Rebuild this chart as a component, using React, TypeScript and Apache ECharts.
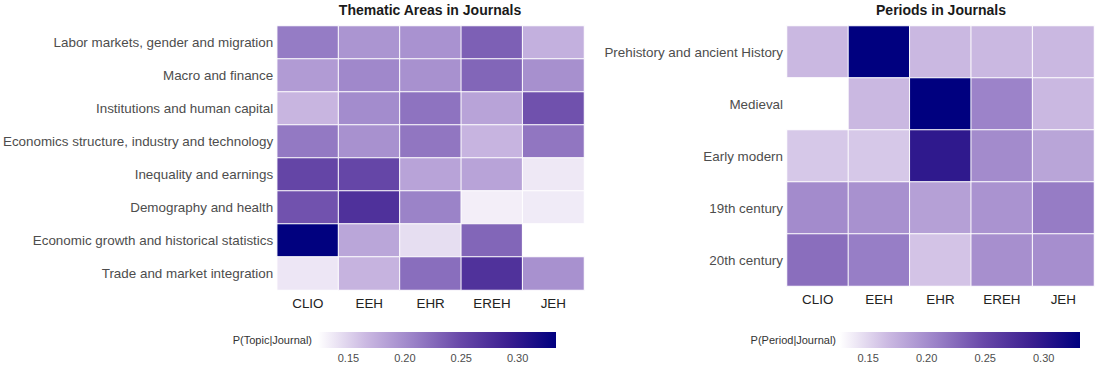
import React, { useEffect, useRef } from "react";
import * as echarts from "echarts";

const journals = ["CLIO", "EEH", "EHR", "EREH", "JEH"];

const topics = [
  "Labor markets, gender and migration",
  "Macro and finance",
  "Institutions and human capital",
  "Economics structure, industry and technology",
  "Inequality and earnings",
  "Demography and health",
  "Economic growth and historical statistics",
  "Trade and market integration",
];

// rows = topics, columns = journals (CLIO, EEH, EHR, EREH, JEH)
const topicValues = [
  [0.212, 0.193, 0.195, 0.232, 0.172],
  [0.188, 0.203, 0.196, 0.228, 0.197],
  [0.168, 0.2, 0.218, 0.182, 0.243],
  [0.214, 0.196, 0.216, 0.169, 0.216],
  [0.253, 0.252, 0.182, 0.182, 0.137],
  [0.242, 0.273, 0.207, 0.133, 0.135],
  [0.333, 0.18, 0.143, 0.228, 0.123],
  [0.138, 0.17, 0.222, 0.272, 0.196],
];

const periods = [
  "Prehistory and ancient History",
  "Medieval",
  "Early modern",
  "19th century",
  "20th century",
];

const periodValues = [
  [0.168, 0.331, 0.168, 0.168, 0.168],
  [0.126, 0.168, 0.331, 0.207, 0.168],
  [0.158, 0.158, 0.298, 0.201, 0.182],
  [0.201, 0.197, 0.186, 0.195, 0.212],
  [0.222, 0.211, 0.161, 0.198, 0.199],
];

const legendTicks = [0.15, 0.2, 0.25, 0.3];
const topicRange = [0.123, 0.334];
const periodRange = [0.126, 0.331];
const scaleColors = ["#ffffff", "#cbb9e2", "#9b82c8", "#6848a8", "#3b1f90", "#00007f"];

function toCells(values: number[][]) {
  const out: number[][] = [];
  values.forEach((row, r) => row.forEach((v, c) => out.push([c, r, v])));
  return out;
}

const FONT = "Liberation Sans, Arial, Helvetica, sans-serif";

export default function App() {
  const ref = useRef<HTMLDivElement>(null);
  useEffect(() => {
    if (!ref.current) return;
    const chart = echarts.init(ref.current, null, { renderer: "svg" });
    const stops = scaleColors.map((c, i) => ({ offset: i / (scaleColors.length - 1), color: c }));
    const gradient = () => new echarts.graphic.LinearGradient(0, 0, 1, 0, stops);

    const legendRender = (params: any, api: any) => {
      const a = api.coord([api.value(0), 1]);
      const b = api.coord([api.value(1), 0]);
      return {
        type: "rect",
        shape: { x: a[0], y: a[1], width: b[0] - a[0], height: b[1] - a[1] },
        style: { fill: gradient() },
      };
    };

    const catAxisX = (gridIndex: number) => ({
      type: "category",
      gridIndex,
      data: journals,
      axisLine: { show: false },
      axisTick: { show: false },
      splitLine: { show: false },
      axisLabel: { color: "#222", fontSize: 13.4, fontFamily: FONT, margin: 7 },
    });
    const catAxisY = (gridIndex: number, data: string[]) => ({
      type: "category",
      gridIndex,
      data,
      inverse: true,
      axisLine: { show: false },
      axisTick: { show: false },
      splitLine: { show: false },
      axisLabel: { color: "#4d4d4d", fontSize: 13.4, fontFamily: FONT, margin: 4 },
    });
    const legendAxisX = (gridIndex: number, range: number[], position: string, labels: boolean) => ({
      type: "value",
      gridIndex,
      min: range[0],
      max: range[1],
      position,
      axisLine: { show: false },
      splitLine: { show: false },
      axisTick: {
        show: true,
        inside: true,
        length: 3,
        customValues: legendTicks,
        lineStyle: { color: "#ffffff", width: 1 },
      },
      axisLabel: {
        show: labels,
        customValues: legendTicks,
        formatter: (v: number) => v.toFixed(2),
        color: "#4d4d4d",
        fontSize: 11,
        fontFamily: FONT,
        margin: 4,
      },
    });
    const legendAxisY = (gridIndex: number) => ({
      type: "value",
      gridIndex,
      min: 0,
      max: 1,
      show: false,
    });

    chart.setOption({
      animation: false,
      backgroundColor: "#ffffff",
      textStyle: { fontFamily: FONT },
      grid: [
        { left: 277, top: 26, width: 307, height: 264 },
        { left: 787, top: 26, width: 307, height: 260 },
        { left: 318, top: 332, width: 238, height: 16 },
        { left: 840, top: 332, width: 240, height: 16 },
      ],
      xAxis: [
        catAxisX(0),
        catAxisX(1),
        legendAxisX(2, topicRange, "bottom", true),
        legendAxisX(3, periodRange, "bottom", true),
        legendAxisX(2, topicRange, "top", false),
        legendAxisX(3, periodRange, "top", false),
      ],
      yAxis: [catAxisY(0, topics), catAxisY(1, periods), legendAxisY(2), legendAxisY(3)],
      visualMap: [
        {
          type: "continuous",
          show: false,
          seriesIndex: 0,
          min: topicRange[0],
          max: topicRange[1],
          inRange: { color: scaleColors },
        },
        {
          type: "continuous",
          show: false,
          seriesIndex: 1,
          min: periodRange[0],
          max: periodRange[1],
          inRange: { color: scaleColors },
        },
      ],
      series: [
        {
          type: "heatmap",
          xAxisIndex: 0,
          yAxisIndex: 0,
          data: toCells(topicValues),
          itemStyle: { borderColor: "#ffffff", borderWidth: 1 },
          emphasis: { disabled: true },
        },
        {
          type: "heatmap",
          xAxisIndex: 1,
          yAxisIndex: 1,
          data: toCells(periodValues),
          itemStyle: { borderColor: "#ffffff", borderWidth: 1 },
          emphasis: { disabled: true },
        },
        {
          type: "custom",
          xAxisIndex: 2,
          yAxisIndex: 2,
          data: [[topicRange[0], topicRange[1]]],
          renderItem: legendRender,
          silent: true,
        },
        {
          type: "custom",
          xAxisIndex: 3,
          yAxisIndex: 3,
          data: [[periodRange[0], periodRange[1]]],
          renderItem: legendRender,
          silent: true,
        },
      ],
      graphic: [
        {
          type: "text",
          x: 430,
          y: 10,
          style: {
            text: "Thematic Areas in Journals",
            fontSize: 14,
            fontWeight: "bold",
            fontFamily: FONT,
            fill: "#1a1a1a",
            align: "center",
            verticalAlign: "middle",
          },
        },
        {
          type: "text",
          x: 941,
          y: 10,
          style: {
            text: "Periods in Journals",
            fontSize: 14,
            fontWeight: "bold",
            fontFamily: FONT,
            fill: "#1a1a1a",
            align: "center",
            verticalAlign: "middle",
          },
        },
        {
          type: "text",
          x: 312,
          y: 340,
          style: {
            text: "P(Topic|Journal)",
            fontSize: 11,
            fontFamily: FONT,
            fill: "#333333",
            align: "right",
            verticalAlign: "middle",
          },
        },
        {
          type: "text",
          x: 836,
          y: 340,
          style: {
            text: "P(Period|Journal)",
            fontSize: 11,
            fontFamily: FONT,
            fill: "#333333",
            align: "right",
            verticalAlign: "middle",
          },
        },
      ],
    });
    return () => chart.dispose();
  }, []);
  return (
    <div
      ref={ref}
      style={{ position: "absolute", left: 0, top: 0, width: 1100, height: 366 }}
    />
  );
}
